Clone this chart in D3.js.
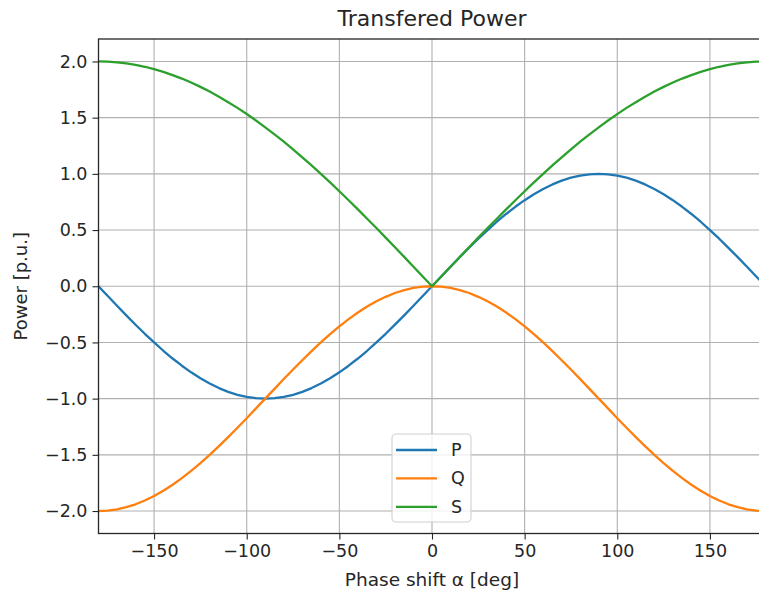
<!DOCTYPE html>
<html>
<head>
<meta charset="utf-8">
<script src="https://cdn.jsdelivr.net/npm/d3@7"></script>
<style>
  body { margin: 0; background: #fff; }
  svg text { font-family: "DejaVu Sans", sans-serif; fill: #262626; }
</style>
</head>
<body>
<div id="main"></div>
<script>
// phase shift alpha [deg]
var alpha = [-180,-175,-170,-165,-160,-155,-150,-145,-140,-135,-130,-125,-120,-115,-110,-105,-100,-95,-90,-85,-80,-75,-70,-65,-60,-55,-50,-45,-40,-35,-30,-25,-20,-15,-10,-5,
    0,5,10,15,20,25,30,35,40,45,50,55,60,65,70,75,80,85,90,95,100,105,110,115,120,125,130,135,140,145,150,155,160,165,170,175,177];

var pValues = [0.000,-0.087,-0.174,-0.259,-0.342,-0.423,-0.500,-0.574,-0.643,-0.707,-0.766,-0.819,-0.866,-0.906,-0.940,-0.966,-0.985,-0.996,-1.000,-0.996,-0.985,-0.966,-0.940,-0.906,-0.866,-0.819,-0.766,-0.707,-0.643,-0.574,-0.500,-0.423,-0.342,-0.259,-0.174,-0.087,
    0.000,0.087,0.174,0.259,0.342,0.423,0.500,0.574,0.643,0.707,0.766,0.819,0.866,0.906,0.940,0.966,0.985,0.996,1.000,0.996,0.985,0.966,0.940,0.906,0.866,0.819,0.766,0.707,0.643,0.574,0.500,0.423,0.342,0.259,0.174,0.087,0.052];

var qValues = [-2.000,-1.996,-1.985,-1.966,-1.940,-1.906,-1.866,-1.819,-1.766,-1.707,-1.643,-1.574,-1.500,-1.423,-1.342,-1.259,-1.174,-1.087,-1.000,-0.913,-0.826,-0.741,-0.658,-0.577,-0.500,-0.426,-0.357,-0.293,-0.234,-0.181,-0.134,-0.094,-0.060,-0.034,-0.015,-0.004,
    0.000,-0.004,-0.015,-0.034,-0.060,-0.094,-0.134,-0.181,-0.234,-0.293,-0.357,-0.426,-0.500,-0.577,-0.658,-0.741,-0.826,-0.913,-1.000,-1.087,-1.174,-1.259,-1.342,-1.423,-1.500,-1.574,-1.643,-1.707,-1.766,-1.819,-1.866,-1.906,-1.940,-1.966,-1.985,-1.996,-1.999];

var sValues = [2.000,1.998,1.992,1.983,1.970,1.953,1.932,1.907,1.879,1.848,1.813,1.774,1.732,1.687,1.638,1.587,1.532,1.475,1.414,1.351,1.286,1.218,1.147,1.075,1.000,0.924,0.845,0.765,0.684,0.601,0.518,0.433,0.347,0.261,0.174,0.087,
    0.000,0.087,0.174,0.261,0.347,0.433,0.518,0.601,0.684,0.765,0.845,0.924,1.000,1.075,1.147,1.218,1.286,1.351,1.414,1.475,1.532,1.587,1.638,1.687,1.732,1.774,1.813,1.848,1.879,1.907,1.932,1.953,1.970,1.983,1.992,1.998,1.999];

var seriesNames = ["P", "Q", "S"];
var xTicks = [-150, -100, -50, 0, 50, 100, 150];
var yTicks = [-2.0, -1.5, -1.0, -0.5, 0.0, 0.5, 1.0, 1.5, 2.0];

const w = 759;
const h = 596;
const padL = 98.5, padR = 765.5, padT = 39, padB = 533.5;
const colors = ["#1f77b4", "#ff7f0e", "#2ca02c"];

const xScale = d3.scaleLinear().domain([-180, 180]).range([padL, padR]);
const yScale = d3.scaleLinear().domain([-2.2, 2.2]).range([padB, padT]);

const svg = d3.select("#main").append("svg").attr("width", w).attr("height", h);

svg.append("defs").append("clipPath").attr("id", "clip")
    .append("rect")
    .attr("x", padL).attr("y", padT)
    .attr("width", padR - padL).attr("height", padB - padT);

// grid
svg.append("g").selectAll("line").data(xTicks).enter().append("line")
    .attr("x1", d => xScale(d)).attr("x2", d => xScale(d))
    .attr("y1", padT).attr("y2", padB)
    .attr("stroke", "#b0b0b0").attr("stroke-width", 1.1);
svg.append("g").selectAll("line").data(yTicks).enter().append("line")
    .attr("x1", padL).attr("x2", padR)
    .attr("y1", d => yScale(d)).attr("y2", d => yScale(d))
    .attr("stroke", "#b0b0b0").attr("stroke-width", 1.1);

// curves
const series = [pValues, qValues, sValues];
const line = d3.line().x((d, i) => xScale(alpha[i])).y(d => yScale(d));
svg.append("g").attr("clip-path", "url(#clip)")
    .selectAll("path").data(series).enter().append("path")
    .attr("d", d => line(d))
    .attr("fill", "none")
    .attr("stroke", (d, i) => colors[i])
    .attr("stroke-width", 2.3)
    .attr("stroke-linejoin", "round")
    .attr("stroke-linecap", "square");

// axes
const xAxis = d3.axisBottom(xScale).tickValues(xTicks).tickFormat(d3.format("d")).tickSize(6).tickPadding(5);
const yAxis = d3.axisLeft(yScale).tickValues(yTicks).tickFormat(d3.format(".1f")).tickSize(6).tickPadding(5);

const gx = svg.append("g").attr("transform", "translate(0," + padB + ")").call(xAxis);
const gy = svg.append("g").attr("transform", "translate(" + padL + ",0)").call(yAxis);
[gx, gy].forEach(function (g) {
    g.select(".domain").remove();
    g.selectAll(".tick line").attr("stroke", "#262626").attr("stroke-width", 1.1);
    g.selectAll(".tick text").style("font-size", "17.5px").attr("fill", "#262626");
});

// spines
svg.append("rect")
    .attr("x", padL).attr("y", padT)
    .attr("width", padR - padL).attr("height", padB - padT)
    .attr("fill", "none").attr("stroke", "#262626").attr("stroke-width", 1.3);

// titles
svg.append("text")
    .attr("x", (padL + padR) / 2).attr("y", 26)
    .style("text-anchor", "middle").style("font-size", "22px")
    .text("Transfered Power");

svg.append("text")
    .attr("x", (padL + padR) / 2).attr("y", 586)
    .style("text-anchor", "middle").style("font-size", "18.5px")
    .text("Phase shift α [deg]");

svg.append("text")
    .attr("transform", "translate(27," + (padT + padB) / 2 + ") rotate(-90)")
    .style("text-anchor", "middle").style("font-size", "18px")
    .text("Power [p.u.]");

// legend
const lg = svg.append("g");
lg.append("rect")
    .attr("x", 392).attr("y", 434).attr("width", 79).attr("height", 88)
    .attr("rx", 4).attr("fill", "#fff").attr("fill-opacity", 0.8)
    .attr("stroke", "#d0d0d0").attr("stroke-width", 1.1);
lg.selectAll("line.leg").data(seriesNames).enter().append("line")
    .attr("class", "leg")
    .attr("x1", 396).attr("x2", 437)
    .attr("y1", (d, i) => 450 + i * 28.4).attr("y2", (d, i) => 450 + i * 28.4)
    .attr("stroke", (d, i) => colors[i]).attr("stroke-width", 2.3);
lg.selectAll("text").data(seriesNames).enter().append("text")
    .attr("x", 451).attr("y", (d, i) => 450 + i * 28.4 + 6)
    .style("font-size", "17.5px")
    .text(d => d);
</script>
</body>
</html>
